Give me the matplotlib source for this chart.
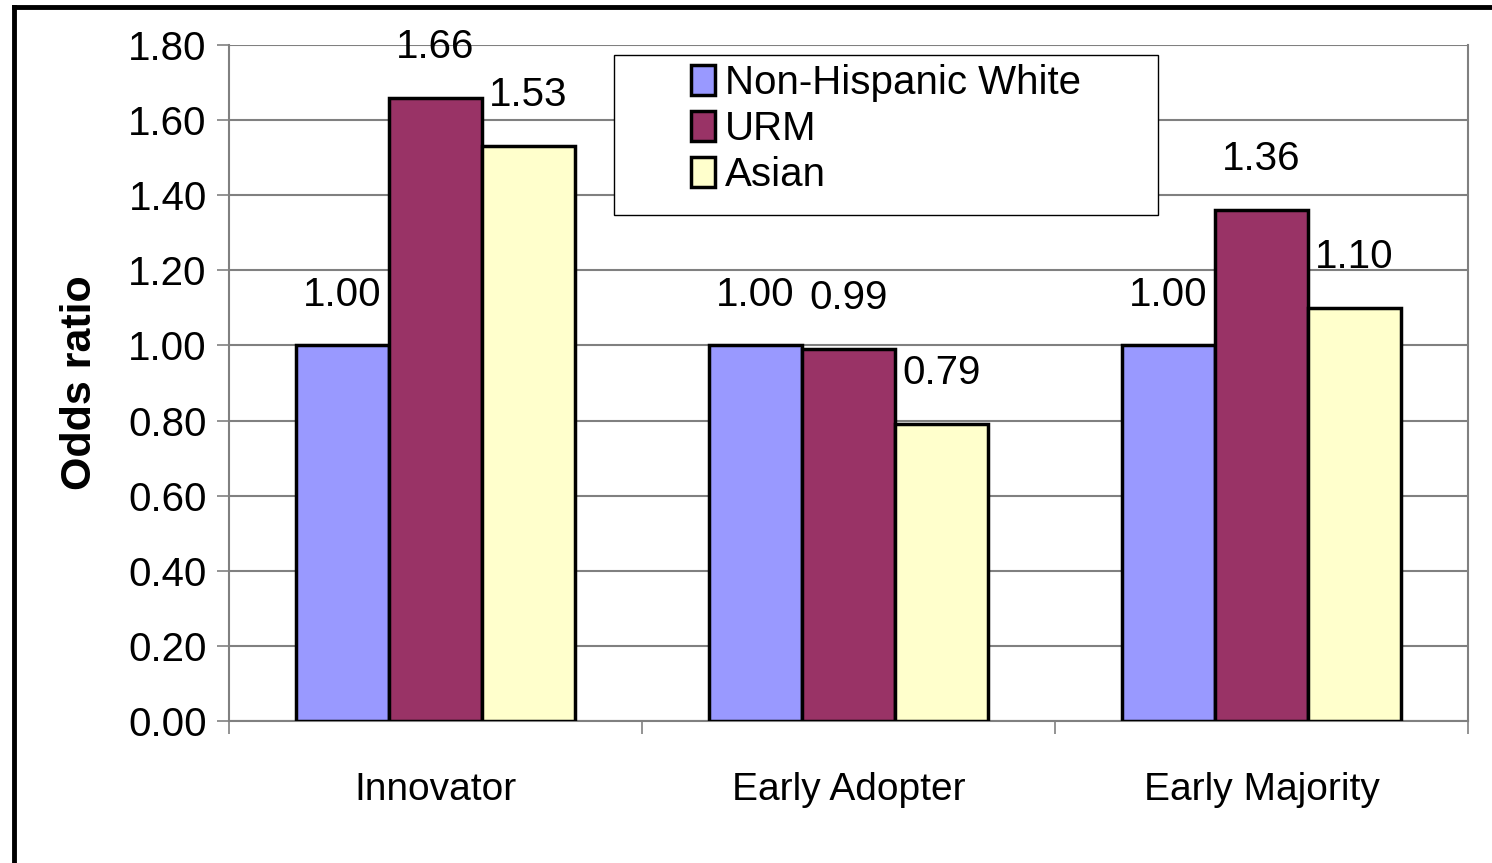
import matplotlib
matplotlib.use("Agg")
import matplotlib.pyplot as plt
import numpy as np
from matplotlib.lines import Line2D
from matplotlib.patches import Rectangle

categories = ["Innovator", "Early Adopter", "Early Majority"]
series_names = ["Non-Hispanic White", "URM", "Asian"]
white = [1.00, 1.00, 1.00]
urm = [1.66, 0.99, 1.36]
asian = [1.53, 0.79, 1.10]
colors = ["#9999FF", "#993366", "#FFFFCC"]
yticks = [0.0, 0.2, 0.4, 0.6, 0.8, 1.0, 1.2, 1.4, 1.6, 1.8]

plt.rcParams['font.family'] = ['Liberation Sans', 'DejaVu Sans']

W, H = 1492, 863
fig = plt.figure(figsize=(W / 100, H / 100), dpi=100)
L, R, T, B = 229, 1468, 45, 721
ax = fig.add_axes([L / W, 1 - B / H, (R - L) / W, (B - T) / H])

x = np.arange(len(categories))
bw = 0.225
grid_c = "#808080"
for i, (vals, name, c) in enumerate(zip([white, urm, asian], series_names, colors)):
    pos = x + (i - 1) * bw
    ax.bar(pos, vals, width=bw, color=c, edgecolor="black", linewidth=2.5,
           label=name, zorder=3)
    for p, v in zip(pos, vals):
        ax.text(p, v + 0.085, f"{v:.2f}", ha="center", va="bottom", fontsize=29,
                zorder=4)

ax.set_xlim(-0.5, 2.5)
ax.set_ylim(0, 1.8)
ax.set_yticks(yticks)
ax.set_yticklabels([f"{t:.2f}" for t in yticks], fontsize=29)
ax.yaxis.grid(True, color=grid_c, linewidth=1.5, zorder=0)
ax.set_axisbelow(True)

ax.set_xticks(x)
ax.set_xticklabels(categories, fontsize=28)
ax.set_xticks([-0.5, 0.5, 1.5, 2.5], minor=True)
ax.tick_params(axis="x", which="major", length=0, pad=37)
ax.tick_params(axis="x", which="minor", length=9, width=1.2, color=grid_c)
ax.tick_params(axis="y", length=9, width=1.2, color=grid_c, pad=7)

for s in ["left", "right", "bottom"]:
    ax.spines[s].set_color(grid_c)
    ax.spines[s].set_linewidth(1.5)
ax.spines["top"].set_visible(False)

ax.set_ylabel("Odds ratio", fontsize=31, fontweight="bold", labelpad=20)

# legend frame (drawn separately to match the wide box)
def ax_x(px):
    return (px - L) / (R - L)

def ax_y(py):
    return (B - py) / (B - T)

box = Rectangle((ax_x(614), ax_y(215)), ax_x(1158) - ax_x(614), ax_y(55) - ax_y(215),
                transform=ax.transAxes, facecolor="white", edgecolor="black",
                linewidth=1.0, zorder=5, clip_on=False)
ax.add_patch(box)

leg = ax.legend(loc="upper left", bbox_to_anchor=(ax_x(691), ax_y(64)),
                fontsize=29, frameon=False, borderpad=0.0,
                handlelength=0.6, handleheight=0.75, handletextpad=0.25,
                labelspacing=0.2, borderaxespad=0)
leg.set_zorder(6)
for h in leg.legend_handles:
    h.set_linewidth(2.5)

# figure border (left and top only; image cropped)
fig.add_artist(Line2D([14 / W, 14 / W], [0, 1 - 7 / H], color="black", linewidth=3.5,
                      transform=fig.transFigure))
fig.add_artist(Line2D([14 / W, 1], [1 - 7 / H, 1 - 7 / H], color="black", linewidth=3.5,
                      transform=fig.transFigure))

fig.savefig("out.png", dpi=100)
